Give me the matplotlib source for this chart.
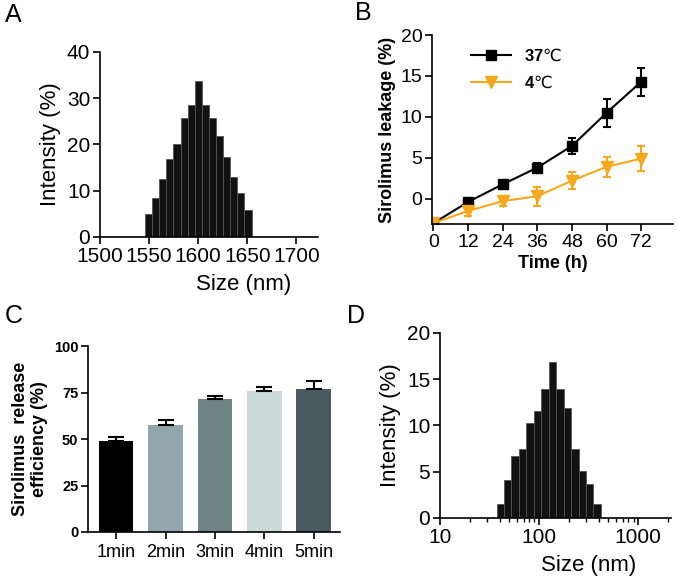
import matplotlib
matplotlib.use("Agg")
import matplotlib.pyplot as plt
import numpy as np
from matplotlib.ticker import FixedLocator, FixedFormatter, NullFormatter

plt.rcParams["font.family"] = ["Liberation Sans", "DejaVu Sans"]
plt.rcParams["mathtext.fontset"] = "custom"
plt.rcParams["mathtext.bf"] = "Liberation Sans:bold"
plt.rcParams["mathtext.rm"] = "Liberation Sans"
plt.rcParams["axes.linewidth"] = 1.2
plt.rcParams["xtick.major.width"] = 1.2
plt.rcParams["ytick.major.width"] = 1.2

# panel A: size distribution (um-scale particles)
a_edges = [1545.8, 1553.0, 1560.3, 1567.5, 1574.7, 1582.0, 1589.2, 1596.4,
           1603.6, 1610.9, 1618.1, 1625.3, 1632.6, 1639.8, 1647.0, 1654.3]
a_intensity = [5.0, 8.5, 12.5, 16.9, 20.2, 25.8, 28.5, 33.7, 28.5, 25.8,
               21.8, 17.4, 13.0, 9.6, 5.8]

# panel B: leakage over time
b_time = [0, 12, 24, 36, 48, 60, 72]
b_37 = [-3.0, -0.4, 1.75, 3.8, 6.45, 10.5, 14.3]
b_37_err = [0.1, 0.3, 0.35, 0.5, 1.0, 1.7, 1.7]
b_4 = [-3.0, -1.5, -0.3, 0.3, 2.2, 3.9, 4.9]
b_4_err = [0.1, 0.65, 0.6, 1.15, 1.0, 1.2, 1.5]

# panel C: release efficiency
c_labels = ["1min", "2min", "3min", "4min", "5min"]
c_values = [48.8, 57.8, 71.8, 75.8, 77.2]
c_err = [2.5, 2.3, 1.6, 2.1, 3.9]
c_colors = ["#000000", "#91a5ad", "#6e8486", "#cddada", "#4a5a60"]

# panel D: size distribution (nm, log scale)
d_edges = [37.3, 44.3, 52.7, 62.7, 74.6, 88.7, 105.4, 125.4, 149.1,
           177.3, 210.8, 250.7, 298.1, 354.4, 421.4]
d_intensity = [1.55, 4.07, 6.7, 7.5, 10.3, 11.6, 13.9, 16.9, 13.9, 11.9,
               7.5, 5.1, 3.7, 1.55]
d_ticks = [10, 100, 1000]

fig = plt.figure(figsize=(6.79, 5.79), dpi=100)


def clean(ax):
    ax.spines["top"].set_visible(False)
    ax.spines["right"].set_visible(False)


# ---- A ----
ax = fig.add_axes([0.1473, 0.5907, 0.321, 0.3195])
edges = np.array(a_edges)
ax.bar(edges[:-1], a_intensity, width=np.diff(edges), align="edge",
       color="#111111", edgecolor="#555555", linewidth=0.6)
ax.set_xlim(1500, 1722)
ax.set_ylim(0, 40)
ax.set_xticks([1500, 1550, 1600, 1650, 1700])
ax.set_yticks([0, 10, 20, 30, 40])
ax.tick_params(labelsize=15, length=5, pad=2)
ax.set_xlabel("Size (nm)", fontsize=16)
ax.xaxis.set_label_coords(0.66, -0.2)
ax.set_ylabel("Intensity (%)", fontsize=16, labelpad=4)
clean(ax)

# ---- B ----
ax = fig.add_axes([0.6362, 0.6131, 0.355, 0.3264])
ax.errorbar(b_time, b_37, yerr=b_37_err, fmt="none", ecolor="black",
            capsize=3, elinewidth=1.5, capthick=1.5)
ax.errorbar(b_time, b_4, yerr=b_4_err, fmt="none", ecolor="#f5a81c",
            capsize=3, elinewidth=1.5, capthick=1.5)
ax.plot(b_time, b_37, color="black", marker="s", markersize=7,
        linewidth=1.5, label=r"$\mathbf{37}$℃")
ax.plot(b_time, b_4, color="#f5a81c", marker="v", markersize=8,
        linewidth=1.5, label=r"$\mathbf{4}$℃")
ax.set_xlim(-0.5, 83)
ax.set_ylim(-3.1, 20)
ax.set_xticks(b_time)
ax.set_yticks([0, 5, 10, 15, 20])
ax.tick_params(labelsize=14, length=5, pad=2)
ax.set_xlabel("Time (h)", fontsize=13, fontweight="bold", labelpad=3)
ax.set_ylabel("Sirolimus leakage (%)", fontsize=13, fontweight="bold",
              labelpad=3)
ax.legend(loc="upper left", bbox_to_anchor=(0.1, 1.015), frameon=False,
          handlelength=2.4, labelspacing=0.5,
          prop={"family": ["DejaVu Sans"], "size": 12})
clean(ax)

# ---- C ----
ax = fig.add_axes([0.1296, 0.0812, 0.3711, 0.3206])
pos = np.arange(len(c_labels))
ax.bar(pos, c_values, width=0.7, color=c_colors)
ax.errorbar(pos, c_values, yerr=[np.zeros(len(c_err)), c_err], fmt="none",
            ecolor="black", elinewidth=1.5, capsize=6, capthick=1.5)
ax.set_xlim(-0.57, 4.53)
ax.set_ylim(0, 100)
ax.set_xticks(pos)
ax.set_xticklabels(c_labels)
ax.set_yticks([0, 25, 50, 75, 100])
ax.tick_params(axis="x", labelsize=13, length=5)
ax.tick_params(axis="y", labelsize=10.5, length=5, pad=2)
for t in ax.get_yticklabels():
    t.set_fontweight("bold")
ax.set_ylabel("Sirolimus  release\nefficiency (%)", fontsize=13,
              fontweight="bold", labelpad=4)
clean(ax)

# ---- D ----
ax = fig.add_axes([0.648, 0.1054, 0.3402, 0.3195])
edges = np.array(d_edges)
ax.bar(edges[:-1], d_intensity, width=np.diff(edges), align="edge",
       color="#111111", edgecolor="#555555", linewidth=0.6)
ax.set_xscale("log")
ax.set_xlim(10, 2150)
ax.set_ylim(0, 20)
ax.xaxis.set_major_locator(FixedLocator(d_ticks))
ax.xaxis.set_major_formatter(FixedFormatter([str(v) for v in d_ticks]))
ax.xaxis.set_minor_formatter(NullFormatter())
ax.set_yticks([0, 5, 10, 15, 20])
ax.tick_params(labelsize=15, length=5, pad=2)
ax.tick_params(which="minor", length=3, width=1.0)
ax.set_xlabel("Size (nm)", fontsize=16)
ax.xaxis.set_label_coords(0.645, -0.2)
ax.set_ylabel("Intensity (%)", fontsize=16, labelpad=4)
clean(ax)

for x, y, s in [(0.007, 0.9625, "A"), (0.523, 0.9655, "B"),
                (0.007, 0.4427, "C"), (0.511, 0.4427, "D")]:
    fig.text(x, y, s, fontsize=18, va="baseline")

fig.savefig("out.png", dpi=100)
